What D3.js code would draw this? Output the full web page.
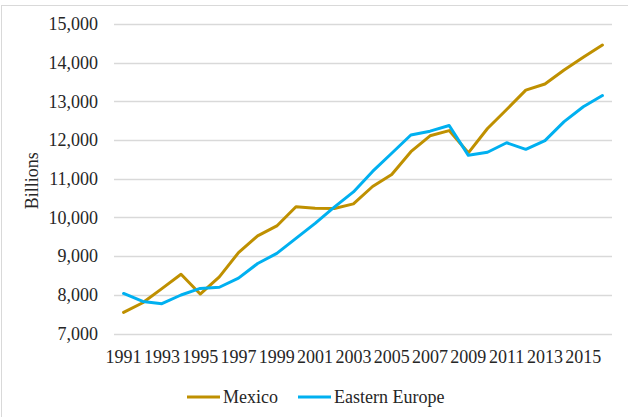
<!DOCTYPE html>
<html>
<head>
<meta charset="utf-8">
<script src="https://cdn.jsdelivr.net/npm/d3@7"></script>
<style>
  body { margin: 0; background: #fff; }
  svg { display: block; font-family: "Liberation Serif", "DejaVu Serif", serif; }
  svg text { font-family: "Liberation Serif", "DejaVu Serif", serif; }
</style>
</head>
<body>
<div class="figure"></div>
<script>
let years = d3.range(1991, 2017)

let mexico = [7545, 7795, 8160, 8530, 8020, 8465, 9090, 9525, 9780, 10275,
  10235, 10230, 10350, 10800, 11110, 11700, 12110, 12245, 11670, 12300,
  12790, 13290, 13450, 13810, 14140, 14455]

let easternEurope = [8035, 7830, 7770, 7995, 8165, 8195, 8430, 8810, 9070, 9460,
  9845, 10265, 10660, 11190, 11660, 12130, 12230, 12375, 11605, 11685,
  11930, 11760, 11985, 12475, 12860, 13150]

let yTicks = [7000, 8000, 9000, 10000, 11000, 12000, 13000, 14000, 15000]
let xLabels = years.filter((d, i) => i % 2 === 0)

let series = [
  { name: "Mexico", values: mexico, color: "#BF9000" },
  { name: "Eastern Europe", values: easternEurope, color: "#00B0F0" }
]

const width = 628
const height = 417
const margin = { left: 114, right: 16, top: 24, bottom: 83.5 }

const svg = d3.select(".figure").append("svg")
    .attr("width", width)
    .attr("height", height)

// chart border
svg.append("rect")
    .attr("x", 1.5)
    .attr("y", 5.5)
    .attr("width", 640)
    .attr("height", 430)
    .attr("fill", "none")
    .attr("stroke", "#D9D9D9")

const x = d3.scaleBand()
    .domain(years)
    .range([margin.left, width - margin.right])

const y = d3.scaleLinear()
    .domain([7000, 15000])
    .range([height - margin.bottom, margin.top])

// gridlines
svg.append("g")
    .selectAll("line")
    .data(yTicks)
    .join("line")
    .attr("x1", margin.left)
    .attr("x2", width - margin.right)
    .attr("y1", d => Math.round(y(d)) + 0.5)
    .attr("y2", d => Math.round(y(d)) + 0.5)
    .attr("stroke", "#D9D9D9")
    .attr("stroke-width", 1.3)

// y axis labels
const yAxis = svg.append("g")
    .attr("transform", `translate(${margin.left - 16},0)`)
    .call(d3.axisLeft(y).tickValues(yTicks).tickFormat(d3.format(",")).tickSize(0).tickPadding(0))
yAxis.attr("font-family", null).attr("font-size", null)
yAxis.select(".domain").remove()
yAxis.selectAll("text")
    .style("font-family", "'Liberation Serif', serif")
    .style("font-size", "18px")
    .attr("fill", "#262626")

// x axis labels
const xAxis = svg.append("g")
    .attr("transform", `translate(0,${height - margin.bottom + 17})`)
    .call(d3.axisBottom(x).tickValues(xLabels).tickSize(0).tickPadding(0))
xAxis.attr("font-family", null).attr("font-size", null)
xAxis.select(".domain").remove()
xAxis.selectAll("text")
    .style("font-family", "'Liberation Serif', serif")
    .style("font-size", "18px")
    .attr("fill", "#262626")

// axis title
svg.append("text")
    .attr("transform", `translate(38,${(y(7000) + y(15000)) / 2 + 2}) rotate(-90)`)
    .attr("text-anchor", "middle")
    .attr("font-size", 18)
    .attr("fill", "#262626")
    .text("Billions")

const line = d3.line()
    .x((d, i) => x(years[i]) + x.bandwidth() / 2)
    .y(d => y(d))

svg.append("g")
    .attr("fill", "none")
    .attr("stroke-width", 3)
    .attr("stroke-linejoin", "round")
    .attr("stroke-linecap", "round")
    .selectAll("path")
    .data(series)
    .join("path")
    .attr("stroke", d => d.color)
    .attr("d", d => line(d.values))

// legend
let legendX = [187, 298]
const legend = svg.append("g")
    .selectAll("g")
    .data(series)
    .join("g")
    .attr("transform", (d, i) => `translate(${legendX[i]},397)`)

legend.append("line")
    .attr("x1", 0)
    .attr("x2", 33)
    .attr("stroke", d => d.color)
    .attr("stroke-width", 3)

legend.append("text")
    .attr("x", 36)
    .attr("y", 6)
    .attr("font-size", 18)
    .attr("fill", "#262626")
    .text(d => d.name)
</script>
</body>
</html>
